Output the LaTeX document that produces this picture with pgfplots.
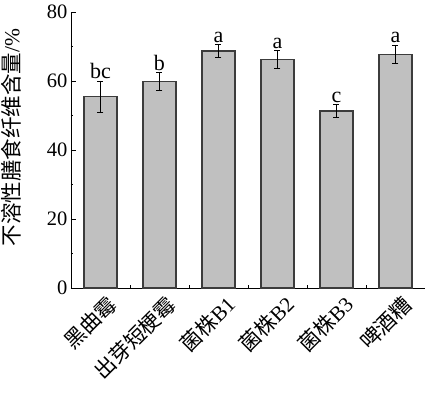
\documentclass[border=0pt]{standalone}
\usepackage{pgfplots}
\pgfplotsset{compat=1.18}
\usepackage{fontspec}
\setmainfont{Liberation Serif}
\newfontfamily\cjk{Noto Sans CJK SC}
\definecolor{barfill}{RGB}{192,192,192}
\definecolor{baredge}{RGB}{60,60,60}
\begin{document}
\begin{tikzpicture}
\begin{axis}[
  scale only axis,
  width=354pt, height=276pt,
  xmin=-0.5, xmax=5.5,
  ymin=0, ymax=80,
  axis lines=left,
  axis line style={-, black, line width=0.9pt},
  xtick={0,1,2,3,4,5},
  minor xtick={0.5,1.5,2.5,3.5,4.5},
  ytick={0,20,40,60,80},
  minor ytick={10,30,50,70},
  tick align=inside,
  major tick length=5pt,
  minor tick length=2.5pt,
  tick style={black, line width=0.8pt},
  xticklabels={{\cjk 黑曲霉},{\cjk 出芽短梗霉},{\cjk 菌株}B1,{\cjk 菌株}B2,{\cjk 菌株}B3,{\cjk 啤酒糟}},
  xticklabel style={rotate=45, anchor=north east, font=\fontsize{21}{23}\selectfont, inner sep=2pt, xshift=2pt, yshift=-6pt},
  yticklabel style={font=\fontsize{20.5}{24}\selectfont},
  /pgf/number format/assume math mode=true,
  ylabel={{\cjk 不溶性膳食纤维含量}/\%},
  ylabel style={at={(axis description cs:-0.169,0.545)}, anchor=center, font=\fontsize{21.5}{24}\selectfont},
  clip=false,
]
\addplot[ybar, bar width=33pt, bar shift=0pt, fill=barfill, draw=baredge, line width=1.1pt,
  error bars/.cd, y dir=both, y explicit,
  error bar style={black, line width=0.8pt},
  error mark options={rotate=90, mark size=3pt, black, line width=0.8pt}]
coordinates {
  (0,55.4) +- (0,4.6)
  (1,59.8) +- (0,2.6)
  (2,68.7) +- (0,1.9)
  (3,66.2) +- (0,2.6)
  (4,51.3) +- (0,1.9)
  (5,67.8) +- (0,2.6)
};
\addplot[draw=none, mark=none, nodes near coords, point meta=explicit symbolic,
  every node near coord/.style={anchor=south, inner sep=2pt, font=\fontsize{22}{24}\selectfont, text=black}]
coordinates {
  (0,60.0) [bc]
  (1,62.4) [b]
  (2,70.6) [a]
  (3,68.8) [a]
  (4,53.2) [c]
  (5,70.4) [a]
};
\coordinate (axsw) at (rel axis cs:0,0);
\coordinate (axne) at (rel axis cs:1,1);
\end{axis}
\pgfresetboundingbox
\path (axsw) ++(-71pt,-105pt) coordinate (bbsw);
\path (axne) ++(1pt,12pt) coordinate (bbne);
\path (bbsw) rectangle (bbne);
\end{tikzpicture}
\end{document}
